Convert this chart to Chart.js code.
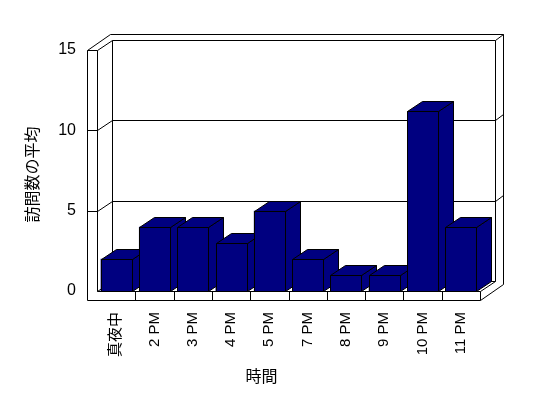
<!DOCTYPE html>
<html><head><meta charset="utf-8">
<script src="https://cdn.jsdelivr.net/npm/chart.js@4.4.1/dist/chart.umd.min.js"></script>
<style>html,body{margin:0;padding:0;background:#fff;}canvas{display:block;}</style>
</head><body>
<canvas id="c" width="548" height="398"></canvas>
<script>
const categories = ['真夜中', '2 PM', '3 PM', '4 PM', '5 PM', '7 PM', '8 PM', '9 PM', '10 PM', '11 PM'];
const visits = [2, 4, 4, 3, 5, 2, 1, 1, 11.2, 4];
const yMin = 0, yMax = 15, yStep = 5;
const xTitle = '時間';
const yTitle = '訪問数の平均';

const NAVY = '#000080';
const DX = 15, DY = -10;   // depth of the plot box
const BX = 8, BY = -6;     // back wall thickness
const LW = 10;             // left wall thickness
const FT = 9;              // floor thickness
const FONT = "'Liberation Sans', Arial, 'Noto Sans CJK JP', sans-serif";
const CJK = "'Noto Sans CJK JP', 'Liberation Sans', sans-serif";

function line(ctx, x1, y1, x2, y2) {
  ctx.beginPath();
  ctx.moveTo(x1 + 0.5, y1 + 0.5);
  ctx.lineTo(x2 + 0.5, y2 + 0.5);
  ctx.stroke();
}
function poly(ctx, pts, fill) {
  ctx.beginPath();
  pts.forEach((p, i) => i ? ctx.lineTo(p[0] + 0.5, p[1] + 0.5) : ctx.moveTo(p[0] + 0.5, p[1] + 0.5));
  ctx.closePath();
  ctx.fillStyle = fill;
  ctx.fill();
  ctx.stroke();
}

const box3d = {
  id: 'box3d',
  afterLayout(chart) {
    const sx = chart.scales.x, sy = chart.scales.y;
    if (!sx._shifted) {
      const o = sx.drawTitle;
      sx.drawTitle = function () { const c = this.ctx; c.save(); c.translate(-27, 0); o.apply(this, arguments); c.restore(); };
      sx._shifted = true;
    }
    if (!sy._shifted) {
      const o = sy.drawTitle;
      sy.drawTitle = function () { const c = this.ctx; c.save(); c.translate(0, 4); o.apply(this, arguments); c.restore(); };
      sy._shifted = true;
    }
  },
  beforeDatasetsDraw(chart) {
    const ctx = chart.ctx, a = chart.chartArea, ys = chart.scales.y, xs = chart.scales.x;
    const L = Math.round(a.left), R = Math.round(a.right);
    const T = Math.round(ys.getPixelForValue(yMax)), B = Math.round(ys.getPixelForValue(yMin));
    ctx.save();
    ctx.strokeStyle = '#000';
    ctx.lineWidth = 1;
    poly(ctx, [
      [L - LW, T], [L - LW + DX + BX, T + DY + BY], [R + DX + BX, T + DY + BY],
      [R + DX + BX, B + FT + DY + BY], [R, B + FT], [L - LW, B + FT]
    ], '#fff');
    line(ctx, L - LW, T, L, T);
    line(ctx, L, T, L, B);
    line(ctx, L, T, L + DX, T + DY);
    line(ctx, L + DX, T + DY, R + DX, T + DY);
    line(ctx, R + DX, T + DY, R + DX + BX, T + DY + BY);
    line(ctx, L + DX, T + DY, L + DX, B + DY);
    line(ctx, R + DX, T + DY, R + DX, B + DY);
    line(ctx, L + DX, B + DY, R + DX, B + DY);
    line(ctx, L, B, L + DX, B + DY);
    line(ctx, L, B, R, B);
    line(ctx, R, B, R + DX, B + DY);
    line(ctx, R, B, R, B + FT);
    for (let v = yMin + yStep; v < yMax; v += yStep) {
      const yv = Math.round(ys.getPixelForValue(v));
      line(ctx, L - LW, yv, L, yv);
      line(ctx, L, yv, L + DX, yv + DY);
      line(ctx, L + DX, yv + DY, R + DX, yv + DY);
      line(ctx, R + DX, yv + DY, R + DX + BX, yv + DY + BY);
    }
    for (let i = 1; i < categories.length; i++) {
      const xb = Math.round((xs.getPixelForValue(i - 1) + xs.getPixelForValue(i)) / 2);
      line(ctx, xb, B, xb, B + FT);
    }
    ctx.restore();
  },
  afterDatasetsDraw(chart) {
    const ctx = chart.ctx;
    const meta = chart.getDatasetMeta(0);
    ctx.save();
    ctx.strokeStyle = '#000';
    ctx.lineWidth = 1;
    meta.data.forEach(bar => {
      const p = bar.getProps(['x', 'y', 'base', 'width'], true);
      const l = Math.round(p.x - p.width / 2), r = Math.round(p.x + p.width / 2);
      const t = Math.round(p.y), b = Math.round(p.base);
      poly(ctx, [[r, b], [r, t], [r + DX, t + DY], [r + DX, b + DY]], NAVY);
      poly(ctx, [[l, t], [r, t], [r + DX, t + DY], [l + DX, t + DY]], NAVY);
      poly(ctx, [[l, t], [r, t], [r, b], [l, b]], NAVY);
    });
    ctx.restore();
  }
};

new Chart(document.getElementById('c'), {
  type: 'bar',
  data: {
    labels: categories,
    datasets: [{
      data: visits,
      backgroundColor: NAVY,
      borderWidth: 0,
      barPercentage: 0.81,
      categoryPercentage: 1.0
    }]
  },
  options: {
    responsive: false,
    devicePixelRatio: 1,
    animation: false,
    layout: { padding: { left: 0, right: 68, top: 50, bottom: 0 } },
    plugins: { legend: { display: false }, tooltip: { enabled: false } },
    scales: {
      x: {
        grid: { display: false, drawTicks: false },
        border: { display: false },
        ticks: {
          color: '#000', font: { family: FONT, size: 15 },
          minRotation: 90, maxRotation: 90, autoSkip: false, padding: 21
        },
        title: { display: true, text: xTitle, color: '#000', font: { family: CJK, size: 16 }, padding: { top: 0, bottom: 12 } },
        afterFit: s => { s.height = 107; }
      },
      y: {
        min: yMin, max: yMax,
        grid: { display: false, drawTicks: false },
        border: { display: false },
        ticks: { stepSize: yStep, color: '#000', font: { family: FONT, size: 16 }, padding: 21 },
        title: { display: true, text: yTitle, color: '#000', font: { family: CJK, size: 16 }, padding: { top: 22, bottom: 0 } },
        afterFit: s => { s.width = 97; }
      }
    }
  },
  plugins: [box3d]
});
</script>
</body></html>
